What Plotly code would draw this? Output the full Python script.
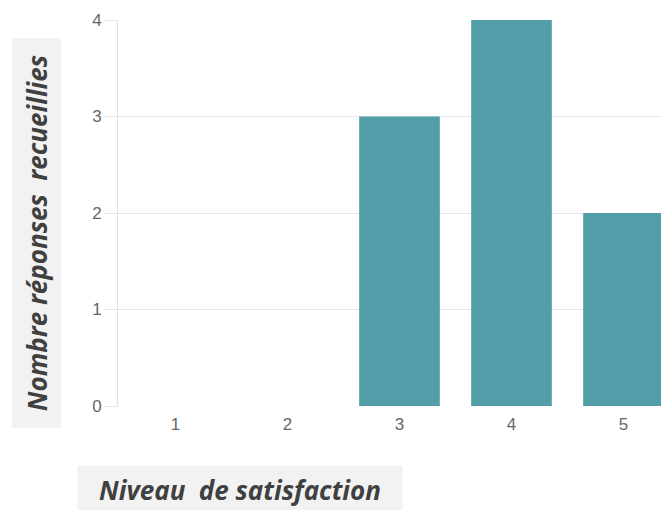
import plotly.graph_objects as go

categories = ["1", "2", "3", "4", "5"]
values = [0, 0, 3, 4, 2]
y_ticks = [0, 1, 2, 3, 4]
x_title = "Niveau\u00a0 de satisfaction"
y_title = "Nombre réponses\u00a0 recueillies"

# page body adds an 8px offset; compensate so the chart lands at the reference pixels
OFF = 8
W, H = 669 - OFF, 510 - OFF
L, R, T, B = 118 - OFF, 0, 20 - OFF, 104
pw, ph = W - L - R, H - T - B
STEP = 112.0

fig = go.Figure(go.Bar(
    x=[int(c) for c in categories], y=values,
    marker=dict(color="#519ea9", line=dict(width=0)),
))

def px_to_paper_x(px):
    return (px - OFF - L) / pw

def px_to_paper_y(py):
    return (H - B - (py - OFF)) / ph

title_font = dict(family="Open Sans", size=26, color="#404040", weight="bold", style="italic")

x0 = 0.5 - 1.5 / STEP

fig.update_layout(
    width=W, height=H,
    margin=dict(l=L, r=R, t=T, b=B, pad=0),
    plot_bgcolor="white", paper_bgcolor="white",
    bargap=0.28,
    showlegend=False,
    xaxis=dict(
        range=[x0, x0 + pw / STEP],
        tickmode="array", tickvals=[int(c) for c in categories], ticktext=categories,
        showgrid=False, zeroline=False, showline=False,
        ticks="outside", ticklen=3, tickcolor="rgba(0,0,0,0)",
        tickfont=dict(family="Liberation Sans", size=17, color="#666666"),
    ),
    yaxis=dict(
        range=[0, 4],
        tickmode="array", tickvals=y_ticks,
        showgrid=True, gridcolor="#e6e6e6", gridwidth=1,
        zeroline=False, showline=True, linecolor="#e0e0e0", linewidth=1,
        ticks="outside", ticklen=12, tickcolor="#e6e6e6",
        tickfont=dict(family="Liberation Sans", size=17, color="#666666"),
    ),
    annotations=[
        dict(
            text=y_title, textangle=-90,
            xref="paper", yref="paper",
            x=px_to_paper_x(36), y=px_to_paper_y(233.5),
            xanchor="center", yanchor="middle",
            width=387, height=46, bgcolor="#f2f2f2",
            showarrow=False, font=title_font, align="center", valign="middle",
        ),
        dict(
            text=x_title,
            xref="paper", yref="paper",
            x=px_to_paper_x(240), y=px_to_paper_y(490),
            xanchor="center", yanchor="middle",
            width=322, height=46, bgcolor="#f2f2f2",
            showarrow=False, font=title_font, align="center", valign="middle",
        ),
    ],
)

fig.write_html("out.html")
